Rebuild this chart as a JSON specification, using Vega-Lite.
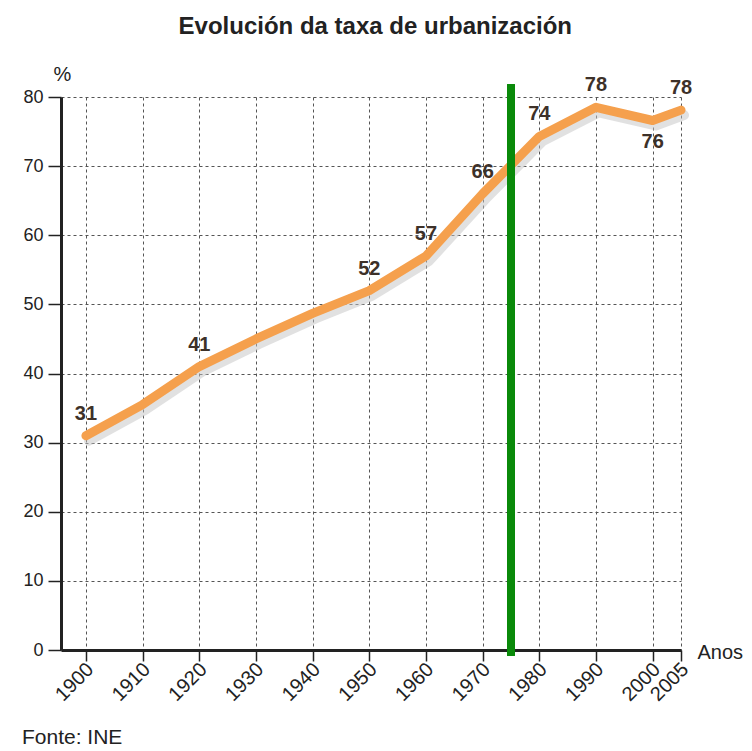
{
  "$schema": "https://vega.github.io/schema/vega-lite/v6.json",
  "background": "white",
  "padding": {"left": 21, "top": 15, "right": 3, "bottom": 3},
  "title": {
    "text": "Evolución da taxa de urbanización",
    "font": "Liberation Sans",
    "fontSize": 24,
    "fontWeight": "bold",
    "color": "#222222",
    "anchor": "middle",
    "offset": 25,
    "dx": -7
  },
  "vconcat": [
    {
      "width": 620,
      "height": 553,
      "title": {
        "text": "Fonte: INE",
        "orient": "bottom",
        "anchor": "start",
        "font": "Liberation Sans",
        "fontSize": 21,
        "fontWeight": "normal",
        "color": "#222222",
        "offset": 22,
        "dx": -1
      },
      "data": {
        "values": [
          {"ano": 1900, "taxa": 31, "etiqueta": "31"},
          {"ano": 1910, "taxa": 35.5, "etiqueta": ""},
          {"ano": 1920, "taxa": 41, "etiqueta": "41"},
          {"ano": 1930, "taxa": 45, "etiqueta": ""},
          {"ano": 1940, "taxa": 48.7, "etiqueta": ""},
          {"ano": 1950, "taxa": 52, "etiqueta": "52"},
          {"ano": 1960, "taxa": 57, "etiqueta": "57"},
          {"ano": 1970, "taxa": 66, "etiqueta": "66"},
          {"ano": 1980, "taxa": 74.3, "etiqueta": "74"},
          {"ano": 1990, "taxa": 78.5, "etiqueta": "78"},
          {"ano": 2000, "taxa": 76.6, "etiqueta": "76"},
          {"ano": 2005, "taxa": 78.1, "etiqueta": "78"}
        ]
      },
      "encoding": {
        "x": {
          "field": "ano",
          "type": "quantitative",
          "scale": {"domain": [1895.6, 2005], "nice": false, "zero": false},
          "axis": {
            "values": [1900, 1910, 1920, 1930, 1940, 1950, 1960, 1970, 1980, 1990, 2000, 2005],
            "format": "d",
            "labelAngle": -45,
            "labelAlign": "right",
            "labelBaseline": "middle",
            "labelFontSize": 20,
            "labelPadding": 5,
            "labelOffset": 4,
            "labelOverlap": false,
            "tickSize": 11,
            "title": "Anos",
            "titleFontSize": 20,
            "titleFontWeight": "normal",
            "titleX": 636,
            "titleY": 2,
            "titleAlign": "left",
            "titleBaseline": "middle",
            "titleAngle": 0
          }
        },
        "y": {
          "field": "taxa",
          "type": "quantitative",
          "scale": {"domain": [0, 80], "nice": false},
          "axis": {
            "values": [0, 10, 20, 30, 40, 50, 60, 70, 80],
            "labelFontSize": 18,
            "labelPadding": 5,
            "tickSize": 13,
            "title": "%",
            "titleFontSize": 20,
            "titleFontWeight": "normal",
            "titleAngle": 0,
            "titleX": -8,
            "titleY": -17,
            "titleAlign": "left",
            "titleBaseline": "alphabetic"
          }
        }
      },
      "layer": [
        {
          "mark": {"type": "line", "color": "#c4c4c4", "strokeWidth": 10, "opacity": 0.5, "xOffset": 3, "yOffset": 5, "strokeCap": "round", "strokeJoin": "round"}
        },
        {
          "mark": {"type": "line", "color": "#F5A04D", "strokeWidth": 9, "strokeCap": "round", "strokeJoin": "round"}
        },
        {
          "mark": {"type": "rule", "color": "#0a8a0a", "strokeWidth": 7, "clip": false},
          "encoding": {
            "x": {"datum": 1975, "type": "quantitative"},
            "y": {"datum": -0.8, "type": "quantitative"},
            "y2": {"datum": 81.8},
            "color": {"value": "#0a8a0a"}
          }
        },
        {
          "transform": [{"filter": "datum.etiqueta != '' && datum.ano != 2000"}],
          "mark": {"type": "text", "font": "Liberation Sans", "fontSize": 20, "fontWeight": "bold", "color": "#3d3129", "dy": -22, "baseline": "middle"},
          "encoding": {"text": {"field": "etiqueta"}}
        },
        {
          "transform": [{"filter": "datum.ano == 2000"}],
          "mark": {"type": "text", "font": "Liberation Sans", "fontSize": 20, "fontWeight": "bold", "color": "#3d3129", "dy": 21, "baseline": "middle"},
          "encoding": {"text": {"field": "etiqueta"}}
        }
      ]
    }
  ],
  "config": {
    "font": "Liberation Sans",
    "view": {"stroke": null},
    "axis": {
      "labelFont": "Liberation Sans",
      "titleFont": "Liberation Sans",
      "labelColor": "#222222",
      "titleColor": "#222222",
      "domainColor": "#222222",
      "domainWidth": 3,
      "tickColor": "#222222",
      "tickWidth": 1.5,
      "grid": true,
      "gridColor": "#555555",
      "gridDash": [3, 3],
      "gridWidth": 1
    }
  }
}
